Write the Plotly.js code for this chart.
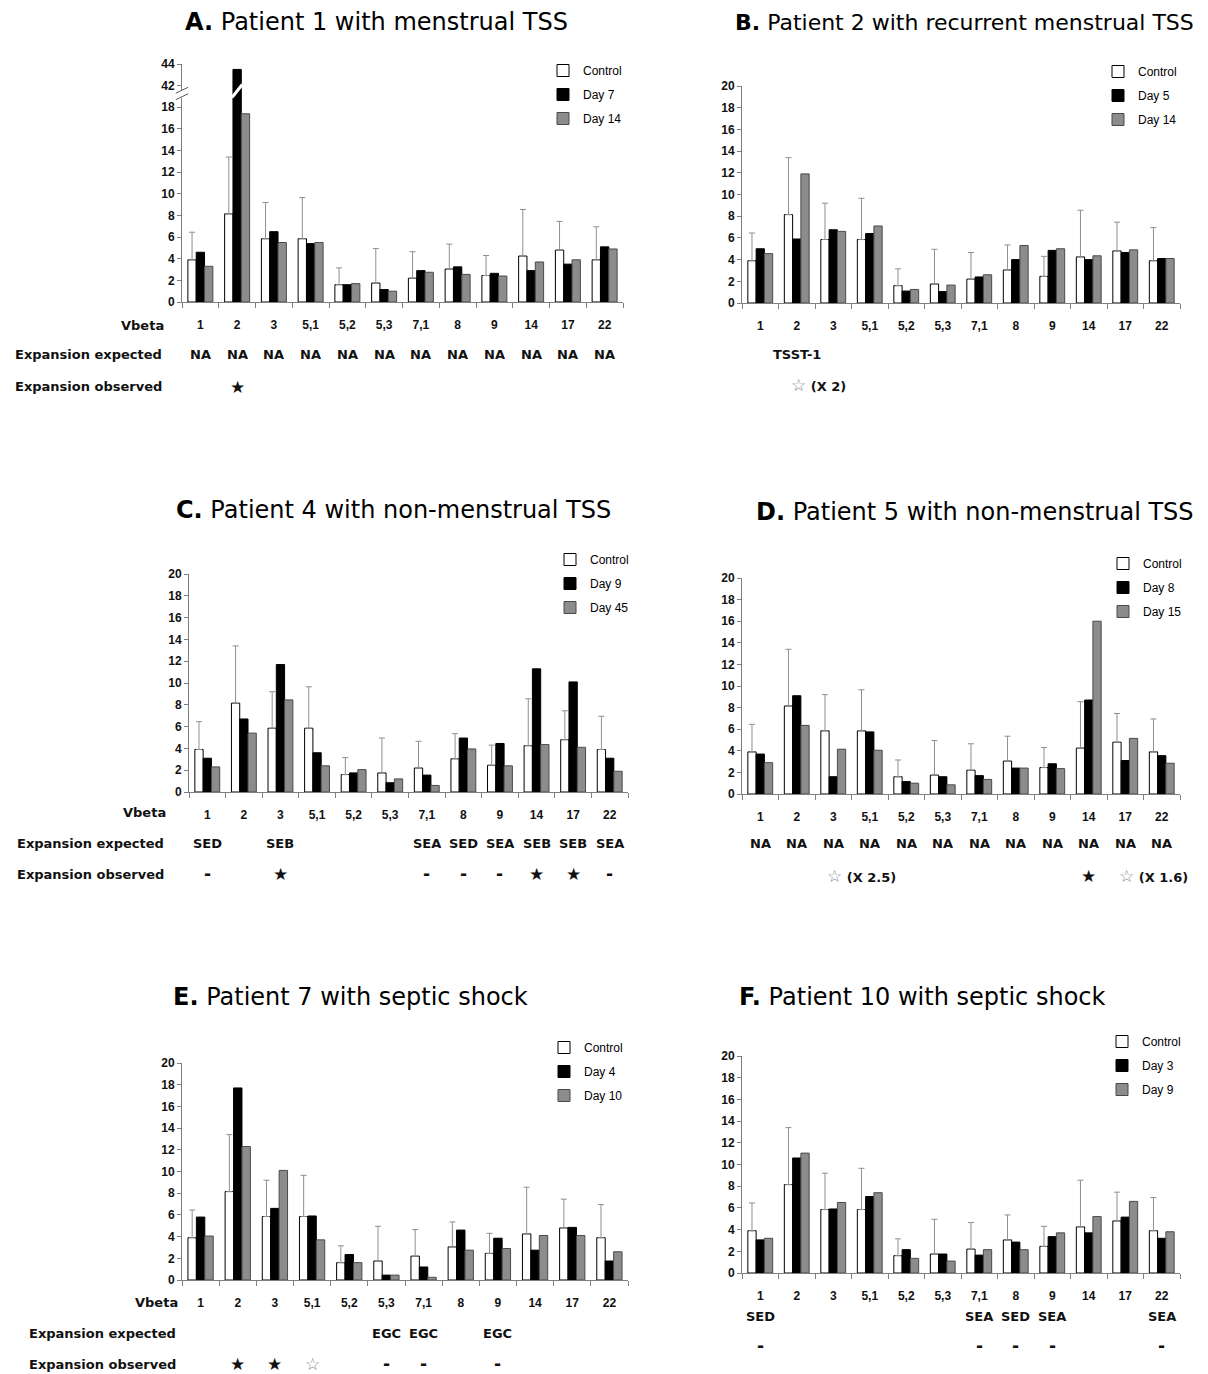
<!DOCTYPE html>
<html><head><meta charset="utf-8">
<script src="https://cdn.plot.ly/plotly-3.0.1.min.js"></script>
<style>body{margin:0;background:#fff}</style>
</head><body>
<div id="chart" style="width:1208px;height:1374px"></div>
<script>
// ---------- data ----------
const vbeta = ['1','2','3','5,1','5,2','5,3','7,1','8','9','14','17','22'];
const controlMean  = [3.9, 8.15, 5.85, 5.85, 1.6, 1.75, 2.2, 3.05, 2.45, 4.25, 4.8, 3.9];
const controlUpper = [6.45, 13.4, 9.2, 9.65, 3.15, 4.95, 4.65, 5.35, 4.3, 8.55, 7.45, 6.95];

const p1Day7  = [4.6, 43.5, 6.5, 5.4, 1.6, 1.15, 2.9, 3.25, 2.65, 2.9, 3.5, 5.1];
const p1Day14 = [3.3, 17.4, 5.5, 5.5, 1.7, 1.0, 2.75, 2.55, 2.4, 3.7, 3.9, 4.9];
const p2Day5  = [5.0, 5.9, 6.75, 6.4, 1.1, 1.05, 2.4, 4.0, 4.85, 4.0, 4.65, 4.1];
const p2Day14 = [4.55, 11.9, 6.6, 7.1, 1.25, 1.65, 2.6, 5.3, 5.0, 4.35, 4.9, 4.1];
const p4Day9  = [3.1, 6.7, 11.7, 3.6, 1.75, 0.85, 1.55, 4.95, 4.45, 11.3, 10.1, 3.1];
const p4Day45 = [2.3, 5.4, 8.45, 2.4, 2.05, 1.2, 0.6, 3.95, 2.4, 4.35, 4.1, 1.9];
const p5Day8  = [3.7, 9.1, 1.6, 5.75, 1.15, 1.6, 1.7, 2.4, 2.8, 8.7, 3.1, 3.55];
const p5Day15 = [2.9, 6.35, 4.15, 4.05, 1.0, 0.85, 1.35, 2.4, 2.35, 16.0, 5.15, 2.85];
const p7Day4  = [5.8, 17.7, 6.6, 5.9, 2.35, 0.45, 1.2, 4.6, 3.85, 2.75, 4.85, 1.75];
const p7Day10 = [4.05, 12.3, 10.1, 3.7, 1.6, 0.45, 0.25, 2.75, 2.9, 4.1, 4.1, 2.6];
const p10Day3 = [3.05, 10.6, 5.9, 7.05, 2.15, 1.75, 1.65, 2.85, 3.35, 3.7, 5.15, 3.2];
const p10Day9 = [3.2, 11.05, 6.5, 7.4, 1.35, 1.1, 2.15, 2.15, 3.7, 5.2, 6.6, 3.8];

const p1Expected = ['NA','NA','NA','NA','NA','NA','NA','NA','NA','NA','NA','NA'];
const p1Observed = ['','★','','','','','','','','','',''];
const p2Expected = ['','TSST-1','','','','','','','','','',''];
const p2Observed = ['','☆ (X 2)','','','','','','','','','',''];
const p4Expected = ['SED','','SEB','','','','SEA','SED','SEA','SEB','SEB','SEA'];
const p4Observed = ['-','','★','','','','-','-','-','★','★','-'];
const p5Expected = ['NA','NA','NA','NA','NA','NA','NA','NA','NA','NA','NA','NA'];
const p5Observed = ['','','☆ (X 2.5)','','','','','','','★','☆ (X 1.6)',''];
const p7Expected = ['','','','','','EGC','EGC','','EGC','','',''];
const p7Observed = ['','★','★','☆','','-','-','','-','','',''];
const p10Expected = ['SED','','','','','','SEA','SED','SEA','','','SEA'];
const p10Observed = ['-','','','','','','-','-','-','','','-'];

// ---------- layout helpers ----------
const W = 1208, H = 1374;
const fx = p => p / W, fy = p => 1 - p / H;

const panels = [
  {key:'A', title:'<b>A.</b> Patient 1 with menstrual TSS', tx:376, ty:22, tanchor:'center', tsize:24,
   names:['Control','Day 7','Day 14'], s1:p1Day7, s2:p1Day14,
   x0:182, x1:623, yB:302, yT:64, yMax:22, brk:true, legX:583, legY:70,
   rows:{vb:166, left:13, vbY:325}, expY:355, obsY:387, expected:p1Expected, observed:p1Observed},
  {key:'B', title:'<b>B.</b> Patient 2 with recurrent menstrual TSS', tx:733, ty:22, tanchor:'left', tsize:22,
   names:['Control','Day 5','Day 14'], s1:p2Day5, s2:p2Day14,
   x0:742, x1:1180, yB:303, yT:86, yMax:20, legX:1138, legY:71,
   expY:354, obsY:385, expected:p2Expected, observed:p2Observed},
  {key:'C', title:'<b>C.</b> Patient 4 with non-menstrual TSS', tx:393, ty:510, tanchor:'center', tsize:24,
   names:['Control','Day 9','Day 45'], s1:p4Day9, s2:p4Day45,
   x0:189, x1:628, yB:792, yT:574, yMax:20, legX:590, legY:559,
   rows:{vb:168, left:15, vbY:812}, expY:843, obsY:874, expected:p4Expected, observed:p4Observed},
  {key:'D', title:'<b>D.</b> Patient 5 with non-menstrual TSS', tx:975, ty:512, tanchor:'center', tsize:24,
   names:['Control','Day 8','Day 15'], s1:p5Day8, s2:p5Day15,
   x0:742, x1:1180, yB:794, yT:578, yMax:20, legX:1143, legY:563,
   expY:844, obsY:876, expected:p5Expected, observed:p5Observed},
  {key:'E', title:'<b>E.</b> Patient 7 with septic shock', tx:350, ty:997, tanchor:'center', tsize:24,
   names:['Control','Day 4','Day 10'], s1:p7Day4, s2:p7Day10,
   x0:182, x1:628, yB:1280, yT:1063, yMax:20, legX:584, legY:1047,
   rows:{vb:180, left:27, vbY:1302}, expY:1333, obsY:1364, expected:p7Expected, observed:p7Observed},
  {key:'F', title:'<b>F.</b> Patient 10 with septic shock', tx:922, ty:997, tanchor:'center', tsize:24,
   names:['Control','Day 3','Day 9'], s1:p10Day3, s2:p10Day9,
   x0:742, x1:1180, yB:1273, yT:1056, yMax:20, legX:1142, legY:1041,
   expY:1316, obsY:1346, expected:p10Expected, observed:p10Observed}
];

const data = [], annotations = [], shapes = [];
const layout = {
  width:W, height:H, autosize:false, margin:{l:0,r:0,t:0,b:0},
  paper_bgcolor:'white', plot_bgcolor:'rgba(0,0,0,0)',
  barmode:'group', bargap:0.32, bargroupgap:0, showlegend:true,
  font:{family:'Liberation Sans, Arial, sans-serif', color:'#000'},
  annotations, shapes
};

const AX = '#808080';
const rowFont = {family:'DejaVu Sans, Liberation Sans', size:13, weight:'bold', color:'#111'};
const valFont = {family:'DejaVu Sans, Liberation Sans', size:13, weight:'bold', color:'#111'};

// titles first
panels.forEach(p => {
  annotations.push({xref:'paper', yref:'paper', x:fx(p.tx), y:fy(p.ty), xanchor:p.tanchor, yanchor:'middle',
    text:p.title, showarrow:false, font:{family:'DejaVu Sans, Liberation Sans', size:p.tsize, color:'#000'}});
});

panels.forEach((p, i) => {
  const n = i === 0 ? '' : String(i + 1);
  const xa = 'x' + n, ya = 'y' + n, lg = 'legend' + n;
  const disp = v => (p.brk && v > 30) ? v - 22 : v;
  const fills = ['white', 'black', '#8c8c8c'];
  const lines = ['black', 'black', '#4a4a4a'];
  const series = [controlMean, p.s1, p.s2];
  series.forEach((s, k) => {
    const tr = {type:'bar', x:vbeta, y:s.map(disp), name:p.names[k], xaxis:xa, yaxis:ya,
      legend:lg, legendgroup:p.key + k, hoverinfo:'skip',
      marker:{color:fills[k], line:{color:lines[k], width:1}}};
    if (k === 0) tr.error_y = {type:'data', symmetric:false,
      array:controlUpper.map((u, j) => u - controlMean[j]),
      arrayminus:controlMean.map(() => 0), color:'#8f8f8f', thickness:1, width:3};
    data.push(tr);
  });

  let tickvals = [], ticktext = [];
  for (let v = 0; v <= 20; v += 2) { tickvals.push(v); ticktext.push(String(v)); }
  if (p.brk) { ticktext[10] = '42'; tickvals.push(22); ticktext.push('44'); }

  layout['xaxis' + n] = {domain:[fx(p.x0), fx(p.x1)], anchor:ya, type:'category', range:[-0.5, 11.5],
    tickson:'boundaries', ticks:'outside', ticklen:5, tickcolor:AX, tickwidth:1,
    showline:true, linecolor:AX, linewidth:1, showgrid:false, zeroline:false,
    tickfont:{family:'Liberation Sans, Arial', size:12, weight:'bold', color:'#111'},
    ticklabelstandoff:12, fixedrange:true};
  layout['yaxis' + n] = {domain:[fy(p.yB), fy(p.yT)], anchor:xa, range:[0, p.yMax],
    tickmode:'array', tickvals, ticktext, ticks:'outside', ticklen:4, tickcolor:AX, tickwidth:1,
    showline:true, linecolor:AX, linewidth:1, showgrid:false, zeroline:false,
    tickfont:{family:'Liberation Sans Narrow, Liberation Sans, Arial', size:12, weight:'bold', color:'#111'},
    fixedrange:true};
  layout[lg] = {x:fx(p.legX - 40), y:fy(p.legY - 14), xanchor:'left', yanchor:'top',
    xref:'paper', yref:'paper', traceorder:'grouped', tracegroupgap:5,
    bgcolor:'rgba(0,0,0,0)', borderwidth:0,
    font:{family:'Liberation Sans, Arial', size:12, color:'#000'}};

  if (p.rows) {
    annotations.push({xref:'paper', yref:'paper', x:fx(p.rows.vb), y:fy(p.rows.vbY), xanchor:'right', yanchor:'middle',
      text:'Vbeta', showarrow:false, font:rowFont});
    annotations.push({xref:'paper', yref:'paper', x:fx(p.rows.left), y:fy(p.expY), xanchor:'left', yanchor:'middle',
      text:'Expansion expected', showarrow:false, font:rowFont});
    annotations.push({xref:'paper', yref:'paper', x:fx(p.rows.left), y:fy(p.obsY), xanchor:'left', yanchor:'middle',
      text:'Expansion observed', showarrow:false, font:rowFont});
  }
  const addRow = (arr, py) => arr.forEach((t, j) => {
    if (!t) return;
    const long = t.length > 1 && (t[0] === '☆' || t[0] === '★');
    let html = t.replace('☆', '<span style="color:#8a8a8a;font-size:17px">☆</span>')
                .replace('★', '<span style="font-size:17px">★</span>');
    if (t === '-') html = '<span style="font-size:17px">-</span>';
    annotations.push({xref:xa, yref:'paper', x:j, y:fy(py), xanchor:long ? 'left' : 'center', xshift:long ? -8 : 0,
      yanchor:'middle', text:html, showarrow:false, font:valFont});
  });
  addRow(p.expected, p.expY);
  addRow(p.observed, p.obsY);

  if (p.brk) {
    // axis break marks on the y axis
    shapes.push({type:'rect', xref:'x domain', yref:ya, x0:-0.006, x1:0.006, y0:18.85, y1:19.55,
      fillcolor:'white', line:{width:0}, layer:'above'});
    [18.7, 19.3].forEach(b => shapes.push({type:'line', xref:'x domain', yref:ya,
      x0:-0.014, x1:0.014, y0:b, y1:b + 0.55, line:{color:'#555', width:1}, layer:'above'}));
    // break across the tall bar
    shapes.push({type:'line', xref:xa, yref:ya, x0:0.86, x1:1.14, y0:18.9, y1:20.1,
      line:{color:'white', width:3}, layer:'above'});
  }
});

Plotly.newPlot('chart', data, layout, {displayModeBar:false, staticPlot:true});
</script>
</body></html>
